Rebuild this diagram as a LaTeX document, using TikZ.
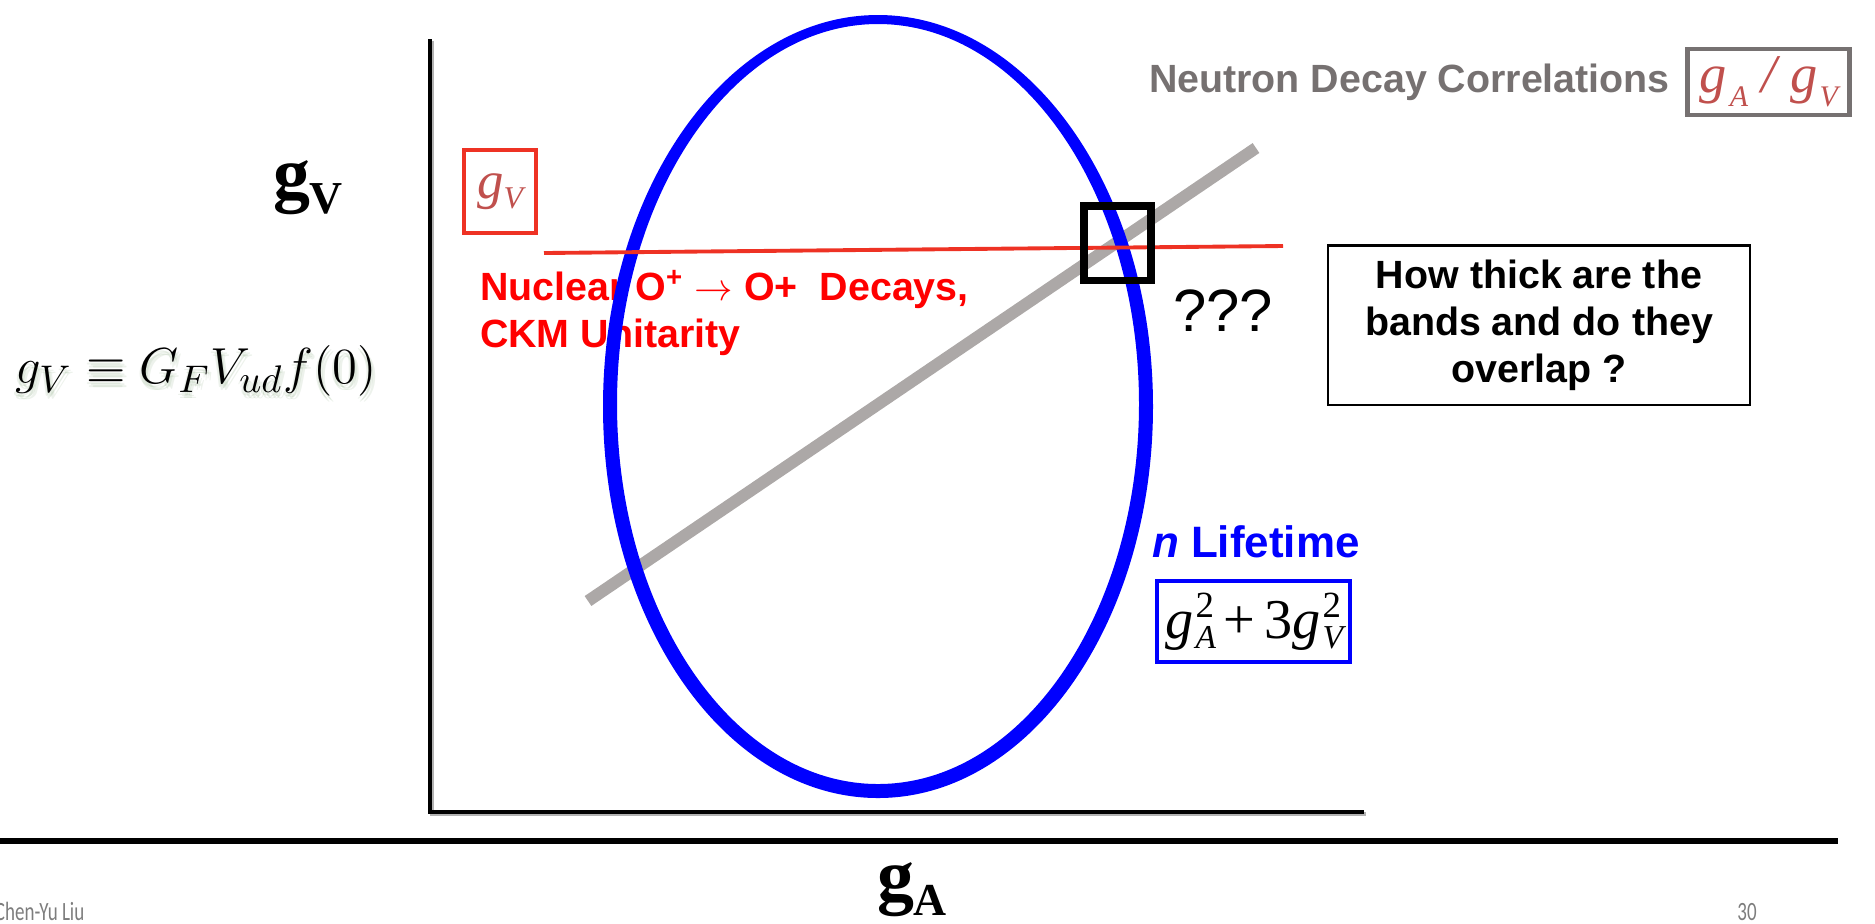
\documentclass[tikz,border=0pt]{standalone}
\usepackage[no-math]{fontspec}
\newfontfamily\arialfont{Liberation Sans}
\newfontfamily\timesfont{Liberation Serif}
\newfontfamily\calfont{Carlito}
\usetikzlibrary{positioning}

\definecolor{bandgray}{RGB}{172,168,167}
\definecolor{ckmred}{RGB}{238,50,36}
\definecolor{txtred}{RGB}{255,0,0}
\definecolor{boxbrown}{RGB}{192,80,77}
\definecolor{corrgray}{RGB}{118,113,113}
\definecolor{lifeblue}{RGB}{0,0,255}
\definecolor{footgray}{RGB}{125,125,125}
\definecolor{glowgreen}{RGB}{110,150,100}

% g with subscript and superscript in the Times boxes
\newcommand{\gsub}[2]{g\kern0.5pt\rlap{\raisebox{-3pt}{\fontsize{9.5}{10}\selectfont #1}}\raisebox{6pt}{\fontsize{10.5}{10}\selectfont\upshape #2}}

\begin{document}
\begin{tikzpicture}[
    x=0.01cm, y=-0.01cm,
    every node/.style={inner sep=0pt, outer sep=0pt},
    axisline/.style={line width=1.3pt},
    axisshadow/.style={line width=1.3pt, black!30},
    band/.style={line width=3.4pt, bandgray},
    ckmline/.style={line width=1.1pt, ckmred},
    sans/.style={font=\arialfont\bfseries\fontsize{11.2}{13.4}\selectfont},
    bigg/.style={font=\timesfont\bfseries\fontsize{21}{21}\selectfont},
    glow/.style={text=glowgreen, opacity=0.12, font=\fontsize{15.2}{15.2}\selectfont},
    footer/.style={font=\calfont\fontsize{7.5}{7.5}\selectfont, text=footgray, xscale=0.72}
]
\useasboundingbox (0,0) rectangle (1875,923);

% axes
\coordinate (origin) at (430,812);
\coordinate (ytop) at (430,39);
\coordinate (xend) at (1364,812);
\draw[axisshadow] (432,41) -- (432,814) -- (1366,814);
\draw[axisline] (ytop) -- (origin) -- (xend);
\draw[line width=1.5pt] (0,841) -- (1838,841);

% correlation band
\draw[band] (588,601) -- (1256,148);

% labels inside the plot
\node[sans, text=txtred, anchor=base west] (nuc1) at (480,300)
    {Nuclear O\textsuperscript{+} $\rightarrow$ O+\ \ Decays,};
\node[sans, text=txtred, anchor=base west] (nuc2) at (480,347) {CKM Unitarity};

% lifetime ellipse
\fill[lifeblue, even odd rule] (878,406.5) ellipse [x radius=275, y radius=391.5]
    (878,404) ellipse [x radius=261, y radius=380];

% Vud line
\draw[ckmline] (544,253) -- (1283,246);

% overlap window
\draw[line width=2pt] (1084,206) rectangle (1151,280);

% axis labels
\node[bigg, anchor=base west] (gvlabel) at (273,198)
    {g\raisebox{-4.3pt}{\fontsize{13}{13}\selectfont V}};
\node[bigg, anchor=base west] (galabel) at (877,900)
    {g\raisebox{-4.3pt}{\fontsize{13}{13}\selectfont A}};
\foreach \dx/\dy [count=\k] in {2/4, 4/6, 0/6, -2/3}
  \node[glow] (gvglow\k) at (196+\dx,371+\dy) {$g_V \equiv G_F V_{ud} f(0)$};
\node[font=\fontsize{15.2}{15.2}\selectfont] (gvdef) at (196,371) {$g_V \equiv G_F V_{ud} f(0)$};

% boxes
\node[draw=ckmred, line width=1.1pt, minimum width=0.72cm, minimum height=0.83cm,
      text=boxbrown, font=\timesfont\itshape\fontsize{15}{15}\selectfont] (gvbox) at (500,191.5)
    {g\raisebox{-2.8pt}{\fontsize{9}{9}\selectfont V}};
\node[sans, text=corrgray, anchor=base west] (corr) at (1149,92) {Neutron Decay Correlations};
\node[draw=corrgray, line width=1.2pt, minimum width=1.62cm, minimum height=0.66cm,
      text=boxbrown, font=\timesfont\itshape\fontsize{15.5}{15.5}\selectfont] (ratio) at (1768.5,82)
    {g\raisebox{-4pt}{\fontsize{8.5}{8.5}\selectfont\kern1pt A}\ /\ g\raisebox{-4pt}{\fontsize{8.5}{8.5}\selectfont\kern0.5pt V}};
\node[font=\arialfont\fontsize{17}{17}\selectfont] (qqq) at (1223,311) {???};
\node[draw, line width=0.6pt, minimum width=4.22cm, minimum height=1.59cm, align=center,
      sans] (question) at (1539,325) {How thick are the\\bands and do they\\overlap ?};
\node[sans, font=\arialfont\bfseries\fontsize{12.5}{12.5}\selectfont, text=lifeblue,
      anchor=base west] (life) at (1152,557) {\itshape n\upshape\ Lifetime};
\node[draw=lifeblue, line width=1.3pt, minimum width=1.93cm, minimum height=0.81cm,
      font=\timesfont\itshape\fontsize{16}{16}\selectfont] (lifebox) at (1253.5,621.5)
    {\gsub{A}{2}\upshape\,+\,3\itshape\gsub{V}{2}};

% footer
\node[footer, anchor=base west] (author) at (-5,920) {Chen-Yu Liu};
\node[footer, anchor=base] (page) at (1747,920) {30};
\end{tikzpicture}
\end{document}
